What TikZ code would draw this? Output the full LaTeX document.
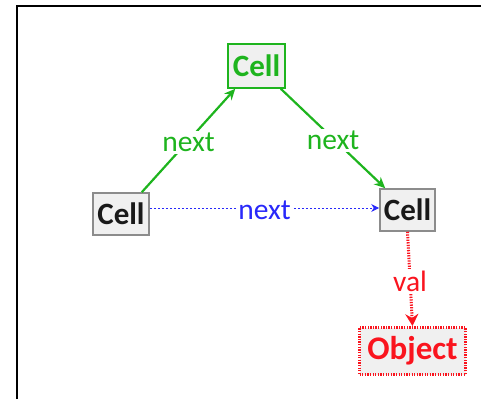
\documentclass[tikz,border=0pt]{standalone}
\usepackage{fontspec}
\setmainfont{Carlito}
\usetikzlibrary{arrows.meta}
\definecolor{linkgreen}{RGB}{30,180,30}
\definecolor{linkblue}{RGB}{40,40,250}
\definecolor{linkred}{RGB}{250,20,30}
\definecolor{cellfill}{RGB}{240,240,240}
\definecolor{cellgray}{RGB}{140,140,140}
\tikzset{
  x=1pt, y=1pt,
  cellbox/.style={draw=cellgray, line width=1.6pt, fill=cellfill, inner sep=0pt,
    font=\fontsize{31}{31}\selectfont\bfseries, text=black!90},
  greenbox/.style={cellbox, draw=linkgreen, text=linkgreen},
  objbox/.style={cellbox, draw=linkred, text=linkred, line width=3pt,
    dash pattern=on 1.3pt off 1.3pt, font=\fontsize{33}{33}\selectfont\bfseries},
  greenlink/.style={draw=linkgreen, line width=2.2pt, -{Stealth[length=11pt,width=10pt]}},
  bluelink/.style={draw=linkblue, line width=0.9pt, dash pattern=on 2pt off 2pt,
    -{Stealth[length=8pt,width=8pt]}},
  redlink/.style={draw=linkred, line width=3pt, dash pattern=on 1.3pt off 1.3pt,
    -{Stealth[length=12pt,width=13pt,inset=4pt]}},
  linklabel/.style={fill=white, inner sep=2pt, font=\fontsize{29.5}{29.5}\selectfont},
}
\begin{document}
\begin{tikzpicture}
\useasboundingbox (0,0) rectangle (481,399);
% frame
\coordinate (fr1) at (16.5,0);
\coordinate (fr2) at (16.5,392.5);
\coordinate (fr3) at (481,392.5);
\draw[line width=2pt] (fr1) -- (fr2) -- (fr3);

% cells
\node[greenbox, minimum width=57pt, minimum height=44pt] (top) at (256.5,333) {Cell};
\node[cellbox, minimum width=56pt, minimum height=42pt] (left) at (121,185) {Cell};
\node[cellbox, minimum width=55pt, minimum height=42pt] (right) at (407.5,189) {Cell};
\node[objbox, minimum width=106pt, minimum height=47pt] (obj) at (412.5,48) {Object};

% links
\draw[greenlink] ([xshift=-8pt]left.north east) -- node[linklabel, text=linkgreen, yshift=-2pt] {next} ([xshift=8pt]top.south west);
\draw[greenlink] ([xshift=-5pt]top.south east) -- node[linklabel, text=linkgreen, yshift=-2pt] {next} ([xshift=6pt]right.north west);
\draw[bluelink] ([yshift=6pt]left.east) -- node[linklabel, text=linkblue, inner sep=1pt, yshift=-2pt] {next} ([yshift=2pt]right.west);
\draw[redlink] (right.south) -- node[linklabel, text=linkred, yshift=-2pt] {val} (obj.north);
\end{tikzpicture}
\end{document}
